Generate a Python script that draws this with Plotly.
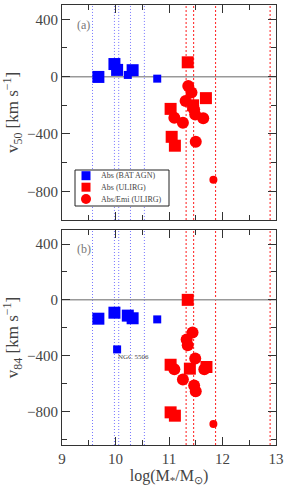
import plotly.graph_objects as go
from plotly.subplots import make_subplots

# ---------------- data ----------------
# vertical reference lines (log stellar mass)
bat_lines = [9.57, 9.98, 10.06, 10.28, 10.54]
ulirg_lines = [11.32, 11.46, 11.87, 12.89]

# panel (a): v50
bat_big_m_a = [9.68, 9.98, 10.03, 10.32]
bat_big_v50 = [-2, 88, 47, 45]
bat_small_m_a = [10.23, 10.78]
bat_small_v50 = [12, -14]
usq_m_a = [11.35, 11.69, 11.03, 11.45, 11.05, 11.11]
usq_v50 = [100, -150, -225, -200, -420, -482]
uci_m_a = [11.36, 11.42, 11.31, 11.47, 11.49, 11.10, 11.26, 11.64, 11.50]
uci_v50 = [-65, -110, -170, -230, -265, -287, -322, -290, -455]
uci_small_m_a = [11.83]
uci_small_v50 = [-719]

# panel (b): v84
bat_big_m_b = [9.68, 9.98, 10.23, 10.32]
bat_big_v84 = [-135, -92, -113, -132]
bat_small_m_b = [10.78, 10.03]
bat_small_v84 = [-140, -355]
usq_m_b = [11.35, 11.03, 11.39, 11.70, 11.03, 11.11]
usq_v84 = [0, -465, -493, -481, -806, -830]
uci_m_b = [11.44, 11.33, 11.35, 11.49, 11.10, 11.66, 11.26, 11.47, 11.50]
uci_v84 = [-234, -284, -325, -421, -498, -498, -570, -614, -655]
uci_small_m_b = [11.83]
uci_small_v84 = [-890]

xticks = [9, 10, 11, 12, 13]
yticks = [-800, -400, 0, 400]
legend_labels = ["Abs (BAT AGN)", "Abs (ULIRG)", "Abs/Emi (ULIRG)"]

# ---------------- styles ----------------
BLUE = "#0000ff"
RED = "#ff0000"
FONT = "Liberation Serif"
BIG = 12
SMALL = 8
W, H = 289, 487
ML, MR, MT, MB = 62, 13, 5, 42
PW, PH = W - ML - MR, H - MT - MB

def px(x):
    return (x - ML) / PW

def py(y):
    return 1 - (y - MT) / PH

fig = make_subplots(rows=2, cols=1, vertical_spacing=0.023)

def add(row, x, y, color, symbol, size):
    fig.add_trace(go.Scatter(x=x, y=y, mode="markers",
                             marker=dict(color=color, symbol=symbol, size=size, line=dict(width=0)),
                             showlegend=False, hoverinfo="skip"), row=row, col=1)

add(1, bat_big_m_a, bat_big_v50, BLUE, "square", BIG)
add(1, bat_small_m_a, bat_small_v50, BLUE, "square", SMALL)
add(1, usq_m_a, usq_v50, RED, "square", BIG)
add(1, uci_m_a, uci_v50, RED, "circle", BIG)
add(1, uci_small_m_a, uci_small_v50, RED, "circle", SMALL)

add(2, bat_big_m_b, bat_big_v84, BLUE, "square", BIG)
add(2, bat_small_m_b, bat_small_v84, BLUE, "square", SMALL)
add(2, usq_m_b, usq_v84, RED, "square", BIG)
add(2, uci_m_b, uci_v84, RED, "circle", BIG)
add(2, uci_small_m_b, uci_small_v84, RED, "circle", SMALL)

for row in (1, 2):
    xr = "x" if row == 1 else "x2"
    yr = "y" if row == 1 else "y2"
    for m in bat_lines:
        fig.add_shape(type="line", xref=xr, yref=yr + " domain", x0=m, x1=m, y0=0, y1=1,
                      line=dict(color="#7777ff", width=1, dash="1px,2px"), layer="below")
    for m in ulirg_lines:
        fig.add_shape(type="line", xref=xr, yref=yr + " domain", x0=m, x1=m, y0=0, y1=1,
                      line=dict(color="#ff3030", width=1.1, dash="2px,2px"), layer="below")
    fig.add_shape(type="line", xref=xr + " domain", yref=yr,
                  x0=0, x1=1, y0=0, y1=0, line=dict(color="#999999", width=1.5), layer="below")

axis_common = dict(showline=True, linecolor="#333333", linewidth=1, mirror="allticks",
                   ticks="inside", ticklen=8, tickcolor="#333333", tickwidth=1,
                   showgrid=False, zeroline=False, automargin=False,
                   tickfont=dict(family=FONT, size=15, color="#444444"))

fig.update_xaxes(range=[9, 13], tickvals=xticks,
                 minor=dict(ticks="inside", dtick=0.5, tick0=9, ticklen=5, tickcolor="#333333", showgrid=False),
                 **axis_common)
fig.update_xaxes(showticklabels=False, row=1, col=1)
fig.update_xaxes(title=dict(text="log(M<sub>*</sub>/M<sub>⊙</sub>)", font=dict(family=FONT, size=16, color="#444444"),
                            standoff=2), row=2, col=1)

fig.update_yaxes(tickvals=yticks, ticktext=["\u2212800", "\u2212400", "0", "400"],
                 minor=dict(ticks="inside", dtick=200, tick0=0, ticklen=5, tickcolor="#333333", showgrid=False),
                 **axis_common)
fig.update_yaxes(range=[-1000, 500], row=1, col=1,
                 title=dict(text="v<sub>50</sub> [km s<sup>\u22121</sup>]", font=dict(family=FONT, size=17, color="#444444"),
                            standoff=6))
fig.update_yaxes(range=[-1040, 500], row=2, col=1,
                 title=dict(text="v<sub>84</sub> [km s<sup>\u22121</sup>]", font=dict(family=FONT, size=17, color="#444444"),
                            standoff=6))

fig.add_annotation(x=9.25, y=362, xref="x", yref="y", text="(a)", showarrow=False, xanchor="left",
                   font=dict(family=FONT, size=12, color="#777777"))
fig.add_annotation(x=9.25, y=366, xref="x2", yref="y2", text="(b)", showarrow=False, xanchor="left",
                   font=dict(family=FONT, size=12, color="#777777"))
fig.add_annotation(x=10.0, y=-410, xref="x2", yref="y2", text="NGC 5506", showarrow=False, xanchor="left",
                   font=dict(family=FONT, size=7, color="#444444"))

# manual legend (box, symbols, labels)
fig.add_shape(type="rect", xref="paper", yref="paper", x0=px(75), x1=px(169), y0=py(206), y1=py(170),
              line=dict(color="#222222", width=1), fillcolor="white", layer="above")
rows_y = [175.7, 187.2, 199.0]
half = 4.5
fig.add_shape(type="rect", xref="paper", yref="paper", x0=px(86 - half), x1=px(86 + half),
              y0=py(rows_y[0] + half), y1=py(rows_y[0] - half), line=dict(width=0), fillcolor=BLUE, layer="above")
fig.add_shape(type="rect", xref="paper", yref="paper", x0=px(86 - half), x1=px(86 + half),
              y0=py(rows_y[1] + half), y1=py(rows_y[1] - half), line=dict(width=0), fillcolor=RED, layer="above")
fig.add_shape(type="circle", xref="paper", yref="paper", x0=px(86 - 5), x1=px(86 + 5),
              y0=py(rows_y[2] + 5), y1=py(rows_y[2] - 5), line=dict(width=0), fillcolor=RED, layer="above")
for lab, yy in zip(legend_labels, rows_y):
    fig.add_annotation(x=px(99), y=py(yy), xref="paper", yref="paper", text=lab, showarrow=False,
                       xanchor="left", yanchor="middle",
                       font=dict(family=FONT, size=8, color="#444444"))

fig.update_layout(
    width=W, height=H,
    margin=dict(l=ML, r=MR, t=MT, b=MB, autoexpand=False),
    paper_bgcolor="white", plot_bgcolor="white",
    font=dict(family=FONT),
    showlegend=False,
)

fig.write_html("out.html", config={"displayModeBar": False},
               post_script="document.body.style.margin='0';document.body.style.overflow='hidden';")
